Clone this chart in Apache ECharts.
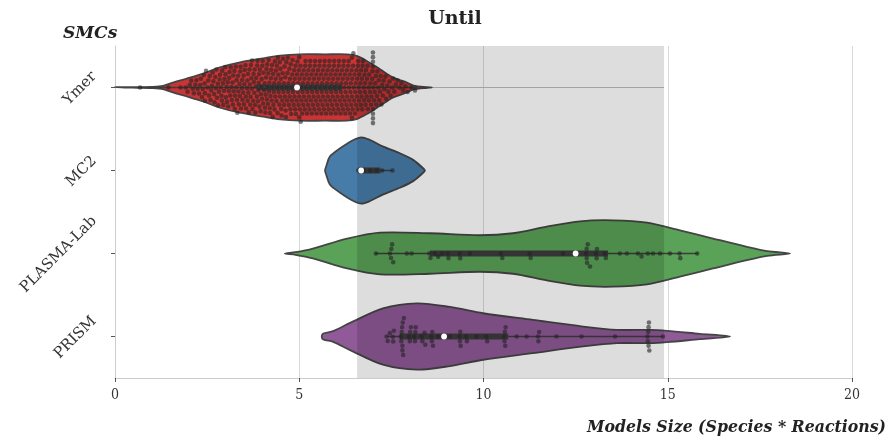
<!DOCTYPE html>
<html><head><meta charset="utf-8">
<script src="https://cdn.jsdelivr.net/npm/echarts@6/dist/echarts.min.js"></script>
<style>html,body{margin:0;padding:0;background:#fff}#c{width:896px;height:440px}</style>
</head><body><div id="c"></div>
<script>
// ---------------- data ----------------
const categories = ['Ymer', 'MC2', 'PLASMA-Lab', 'PRISM'];
const xTickValues = [0, 5, 10, 15, 20];

const ymerValues = [
0.68, 1.45, 1.78, 1.92, 1.97,
2.03, 2.07, 2.11, 2.14, 2.18, 2.21, 2.24, 2.28,
2.31, 2.33, 2.36, 2.38, 2.41, 2.43, 2.44, 2.44, 2.47,
2.51, 2.53, 2.55, 2.57, 2.59, 2.61, 2.63, 2.65, 2.67, 2.69,
2.70, 2.72, 2.74, 2.75, 2.77, 2.79, 2.80, 2.82, 2.84, 2.85, 2.87, 2.89,
2.90, 2.91, 2.93, 2.94, 2.96, 2.97, 2.99, 3.00, 3.01, 3.03, 3.04, 3.06, 3.07, 3.09,
3.10, 3.11, 3.13, 3.14, 3.16, 3.17, 3.19, 3.20, 3.21, 3.22, 3.24, 3.25, 3.26, 3.28, 3.29,
3.30, 3.31, 3.32, 3.34, 3.35, 3.36, 3.38, 3.39, 3.40, 3.41, 3.42, 3.44, 3.45, 3.46, 3.48, 3.49,
3.50, 3.51, 3.52, 3.54, 3.55, 3.56, 3.58, 3.59, 3.60, 3.61, 3.62, 3.63, 3.65, 3.66, 3.67, 3.68, 3.69,
3.70, 3.71, 3.72, 3.73, 3.75, 3.76, 3.77, 3.78, 3.79, 3.80, 3.81, 3.82, 3.83, 3.85, 3.86, 3.87, 3.88, 3.89,
3.90, 3.91, 3.92, 3.93, 3.95, 3.96, 3.97, 3.98, 3.99, 4.00, 4.01, 4.02, 4.03, 4.05, 4.06, 4.07, 4.08, 4.09,
4.10, 4.11, 4.12, 4.13, 4.14, 4.15, 4.16, 4.17, 4.18, 4.19,
4.20, 4.21, 4.22, 4.23, 4.24, 4.25, 4.26, 4.27, 4.28, 4.29,
4.30, 4.31, 4.32, 4.33, 4.34, 4.35, 4.36, 4.37, 4.38, 4.39,
4.40, 4.41, 4.42, 4.43, 4.44, 4.45, 4.46, 4.47, 4.48, 4.49,
4.50, 4.51, 4.52, 4.53, 4.54, 4.55, 4.56, 4.57, 4.58, 4.59,
4.60, 4.61, 4.62, 4.63, 4.64, 4.65, 4.66, 4.67, 4.68, 4.69,
4.70, 4.71, 4.72, 4.73, 4.74, 4.75, 4.76, 4.77, 4.78, 4.79,
4.80, 4.81, 4.82, 4.83, 4.84, 4.85, 4.86, 4.87, 4.88, 4.89,
4.90, 4.91, 4.92, 4.93, 4.94, 4.95, 4.96, 4.97, 4.98, 4.99,
5.00, 5.00, 5.00, 5.01, 5.02, 5.03, 5.04, 5.05, 5.06, 5.07, 5.08, 5.09,
5.10, 5.11, 5.12, 5.13, 5.14, 5.15, 5.16, 5.17, 5.18, 5.19,
5.20, 5.21, 5.22, 5.23, 5.24, 5.25, 5.26, 5.27, 5.28, 5.29,
5.30, 5.31, 5.32, 5.33, 5.34, 5.35, 5.36, 5.37, 5.38, 5.39,
5.40, 5.41, 5.42, 5.43, 5.44, 5.45, 5.46, 5.47, 5.48, 5.49,
5.50, 5.51, 5.52, 5.53, 5.54, 5.55, 5.56, 5.57, 5.58, 5.59,
5.60, 5.61, 5.62, 5.63, 5.64, 5.65, 5.66, 5.67, 5.68, 5.69,
5.70, 5.71, 5.72, 5.73, 5.74, 5.75, 5.76, 5.77, 5.78, 5.79,
5.80, 5.81, 5.82, 5.83, 5.84, 5.85, 5.86, 5.87, 5.88, 5.89,
5.90, 5.91, 5.92, 5.93, 5.94, 5.95, 5.96, 5.97, 5.98, 5.99,
6.00, 6.01, 6.02, 6.03, 6.04, 6.05, 6.06, 6.07, 6.08, 6.09,
6.10, 6.11, 6.12, 6.13, 6.14, 6.15, 6.16, 6.17, 6.18, 6.19,
6.20, 6.21, 6.22, 6.23, 6.24, 6.25, 6.26, 6.27, 6.28, 6.29,
6.30, 6.31, 6.32, 6.33, 6.34, 6.35, 6.36, 6.37, 6.38, 6.39,
6.40, 6.41, 6.42, 6.43, 6.43, 6.43, 6.44, 6.45, 6.46, 6.47, 6.48, 6.49,
6.50, 6.51, 6.52, 6.53, 6.54, 6.55, 6.56, 6.57, 6.58, 6.59,
6.60, 6.61, 6.62, 6.63, 6.65, 6.66, 6.67, 6.68, 6.69,
6.70, 6.71, 6.72, 6.73, 6.75, 6.76, 6.77, 6.78, 6.79,
6.80, 6.81, 6.83, 6.84, 6.85, 6.86, 6.88, 6.89,
6.90, 6.92, 6.93, 6.95, 6.96, 6.98, 6.99,
7.00, 7.00, 7.00, 7.00, 7.00, 7.00, 7.00, 7.00,
7.01, 7.03, 7.05, 7.06, 7.08, 7.09, 7.11, 7.12, 7.14, 7.16, 7.17, 7.19,
7.21, 7.23, 7.25, 7.27, 7.29, 7.31, 7.34, 7.36, 7.39,
7.42, 7.45, 7.48, 7.52, 7.55, 7.58, 7.62, 7.67, 7.72, 7.77, 7.82, 7.88, 7.94, 8.04, 8.14
];
const mc2Values = [6.60, 6.75, 6.92, 7.10, 7.25, 7.53];
const plasmaValues = [7.08, 7.46, 7.49, 7.50, 7.52, 7.55, 7.92, 8.05, 8.53, 8.56, 8.68, 8.77, 8.87,
  9.03, 9.05, 9.35, 9.37, 9.63, 10.47, 10.51, 11.25, 11.28, 12.16, 12.78, 12.80, 12.80, 12.81,
  12.83, 12.89, 13.05, 13.07, 13.08, 13.29, 13.32, 13.70, 13.89, 14.19, 14.29, 14.46, 14.60,
  14.79, 15.06, 15.32, 15.34, 15.80];
const prismValues = [7.37, 7.40, 7.46, 7.54, 7.55, 7.57, 7.75, 7.77, 7.78, 7.79, 7.80, 7.80, 7.81,
  7.82, 7.84, 7.98, 8.00, 8.01, 8.03, 8.12, 8.14, 8.15, 8.16, 8.32, 8.34, 8.40, 8.42, 8.58, 8.60,
  8.61, 8.63, 8.77, 9.09, 9.35, 9.36, 9.37, 9.38, 9.53, 9.55, 9.81, 10.08, 10.10, 10.56, 10.57,
  10.58, 10.59, 10.60, 10.90, 11.17, 11.48, 11.49, 11.51, 11.98, 12.66, 13.57, 14.45, 14.46,
  14.47, 14.48, 14.48, 14.49, 14.50, 14.87];

// violin outlines: positions along the value axis and relative half-widths (1 = widest)
const ymerOutlineX = [0.0, 0.6, 1.0, 1.3, 1.57, 1.95, 2.39, 2.85, 3.39, 4.02, 4.48, 5.0, 5.7, 6.29, 6.56, 6.83, 7.19, 7.55, 7.92, 8.1, 8.47, 8.6];
const ymerOutlineW = [0.01, 0.01, 0.02, 0.05, 0.15, 0.27, 0.42, 0.61, 0.76, 0.88, 0.96, 1.0, 1.0, 1.0, 0.95, 0.80, 0.55, 0.30, 0.15, 0.06, 0.01, 0];
const mc2OutlineX = [5.70, 5.73, 5.83, 6.11, 6.47, 6.69, 6.92, 7.28, 7.73, 8.09, 8.36, 8.41];
const mc2OutlineW = [0, 0.12, 0.42, 0.67, 0.92, 1.0, 0.92, 0.72, 0.52, 0.32, 0.07, 0];
const plasmaOutlineX = [4.61, 4.9, 5.37, 6.3, 7.19, 8.55, 9.9, 10.8, 11.72, 12.62, 13.51, 14.44, 15.33, 16.23, 17.15, 17.7, 18.32];
const plasmaOutlineW = [0, 0.04, 0.15, 0.45, 0.63, 0.61, 0.55, 0.61, 0.81, 0.97, 1.0, 0.93, 0.70, 0.45, 0.20, 0.07, 0];
const prismOutlineX = [5.61, 5.65, 5.92, 6.38, 7.27, 8.2, 9.09, 9.99, 11.34, 12.7, 13.62, 14.52, 14.98, 15.87, 16.69];
const prismOutlineW = [0, 0.09, 0.16, 0.41, 0.85, 1.0, 0.89, 0.70, 0.50, 0.30, 0.20, 0.20, 0.17, 0.08, 0];

// inner box statistics
const whiskerLow  = [0.68, 6.60, 7.06, 7.37];
const quartile1   = [3.85, 6.60, 8.55, 7.73];
const medians     = [4.94, 6.68, 12.50, 8.93];
const quartile3   = [6.16, 7.20, 13.38, 10.67];
const whiskerHigh = [8.20, 7.53, 15.82, 14.88];

// shaded range and reference line
const shadedRange = [6.57, 14.9];
const refLineRange = [0, 14.9];

// ---------------- rendering ----------------
const groupValues = [ymerValues, mc2Values, plasmaValues, prismValues];
const outlines = [
  [ymerOutlineX, ymerOutlineW], [mc2OutlineX, mc2OutlineW],
  [plasmaOutlineX, plasmaOutlineW], [prismOutlineX, prismOutlineW]
];
const colors = ['#cb3334', '#477ca8', '#59a257', '#905998'];
const serifC = "'DejaVu Serif Condensed', 'DejaVu Serif', serif";
const serifN = "'DejaVu Serif', serif";
const catFontSize = 15;
const catFont = catFontSize + "px " + serifN;

const measureCtx = document.createElement('canvas').getContext('2d');
function textWidth(t, font) { measureCtx.font = font; return measureCtx.measureText(t).width; }

const chart = echarts.init(document.getElementById('c'), null, {renderer: 'canvas'});
const catItems = categories.map((c, i) => [0, i]);

function violinItem(params, api) {
  const i = api.value(1);
  const [xs, ws] = outlines[i];
  const half = api.size([0, 1])[1] * 0.4;
  const top = [], bot = [];
  for (let k = 0; k < xs.length; k++) {
    const p = api.coord([xs[k], i]);
    top.push([p[0], p[1] - ws[k] * half]);
    if (k > 0 && k < xs.length - 1) bot.push([p[0], p[1] + ws[k] * half]);
  }
  const pts = top.concat(bot.reverse());
  return {type: 'polygon', shape: {points: pts, smooth: 0.3},
    style: {fill: colors[i], stroke: '#454545', lineWidth: 1.8}};
}

function boxItem(params, api) {
  const i = api.value(1);
  const lo = api.coord([whiskerLow[i], i]);
  const hi = api.coord([whiskerHigh[i], i]);
  const q1 = api.coord([quartile1[i], i]);
  const q3 = api.coord([quartile3[i], i]);
  return {type: 'group', children: [
    {type: 'line', shape: {x1: lo[0], y1: lo[1], x2: hi[0], y2: hi[1]}, style: {stroke: '#3d3d3d', lineWidth: 1.6}},
    {type: 'rect', shape: {x: q1[0], y: q1[1] - 3, width: q3[0] - q1[0], height: 6}, style: {fill: '#3d3d3d'}}
  ]};
}

function swarmItem(params, api) {
  const i = api.value(1);
  const d = 4.7;
  const vals = groupValues[i].slice().sort((a, b) => a - b);
  const placed = [];
  const children = [];
  for (const v of vals) {
    const p = api.coord([v, i]);
    const x = p[0];
    const near = placed.filter(q => Math.abs(q[0] - x) < d);
    const cands = [0];
    for (const q of near) {
      const dy = Math.sqrt(Math.max(0, d * d - (x - q[0]) * (x - q[0])));
      cands.push(q[1] + dy, q[1] - dy);
    }
    cands.sort((a, b) => Math.abs(a) - Math.abs(b));
    let off = cands[cands.length - 1];
    for (const c of cands) {
      let ok = true;
      for (const q of near) {
        const dx = x - q[0], dy = c - q[1];
        if (dx * dx + dy * dy < d * d - 0.01) { ok = false; break; }
      }
      if (ok) { off = c; break; }
    }
    placed.push([x, off]);
    children.push({type: 'circle', shape: {cx: x, cy: p[1] + off, r: 2.3},
      style: {fill: 'rgba(35,35,35,0.6)'}});
  }
  const m = api.coord([medians[i], i]);
  children.push({type: 'circle', shape: {cx: m[0], cy: m[1], r: 2.9}, style: {fill: '#ffffff'}});
  return {type: 'group', children};
}

function bandItem(params, api) {
  const cs = params.coordSys;
  const a = api.coord([shadedRange[0], 0]);
  const b = api.coord([shadedRange[1], 0]);
  return {type: 'rect', shape: {x: a[0], y: cs.y, width: b[0] - a[0], height: cs.height},
    style: {fill: 'rgba(0,0,0,0.135)'}};
}

function refLineItem(params, api) {
  const a = api.coord([refLineRange[0], 0]);
  const b = api.coord([refLineRange[1], 0]);
  return {type: 'line', shape: {x1: a[0], y1: a[1], x2: b[0], y2: b[1]},
    style: {stroke: '#bdbdbd', lineWidth: 1.2}};
}

// category labels rotated 45deg, box right edge at a fixed gap from the axis, box centred on tick
function catLabelItem(params, api) {
  const i = api.value(1);
  const p = api.coord([0, i]);
  const t = categories[i];
  const w = textWidth(t, catFont);
  const h = catFontSize * 1.1;
  const half = (w + h) / (2 * Math.SQRT2);
  const right = p[0] - 15;
  return {type: 'text', x: right - half, y: p[1] + 1, rotation: Math.PI / 4,
    style: {text: t, font: catFont, fill: '#333333', align: 'center', verticalAlign: 'middle'}};
}

const option = {
  animation: false,
  backgroundColor: '#ffffff',
  grid: {left: 115, right: 44, top: 46, bottom: 62},
  xAxis: {
    type: 'value', min: xTickValues[0], max: xTickValues[xTickValues.length - 1], interval: 5,
    axisLine: {show: true, lineStyle: {color: '#cccccc', width: 1}},
    axisTick: {show: true, length: 4, lineStyle: {color: '#555555'}},
    axisLabel: {color: '#333333', fontFamily: serifC, fontSize: 14, margin: 10},
    splitLine: {show: true, lineStyle: {color: '#d9d9d9', width: 1}}
  },
  yAxis: {
    type: 'category', data: categories, inverse: true,
    axisLine: {show: true, lineStyle: {color: '#cccccc', width: 1}},
    axisTick: {show: true, alignWithLabel: true, length: 4, lineStyle: {color: '#555555'}},
    axisLabel: {show: false},
    splitLine: {show: false}
  },
  graphic: [
    {type: 'text', x: 455, y: 10, style: {text: 'Until', font: "bold 19px " + serifN, fill: '#222', align: 'center', verticalAlign: 'top'}},
    {type: 'text', x: 63, y: 25, style: {text: 'SMCs', font: "italic bold 17px " + serifN, fill: '#222', align: 'left', verticalAlign: 'top'}},
    {type: 'text', x: 886, y: 418, style: {text: 'Models Size (Species * Reactions)', font: "italic bold 17.5px " + serifC, fill: '#222', align: 'right', verticalAlign: 'top'}}
  ],
  series: [
    {type: 'custom', z: 1, renderItem: refLineItem, data: [[0, 0]], silent: true},
    {type: 'custom', z: 2, renderItem: violinItem, data: catItems, silent: true},
    {type: 'custom', z: 3, renderItem: boxItem, data: catItems, silent: true},
    {type: 'custom', z: 4, renderItem: bandItem, data: [[0, 0]], silent: true},
    {type: 'custom', z: 5, renderItem: swarmItem, data: catItems, silent: true},
    {type: 'custom', z: 6, renderItem: catLabelItem, data: catItems, silent: true, clip: false}
  ]
};
chart.setOption(option);
</script>
</body></html>
